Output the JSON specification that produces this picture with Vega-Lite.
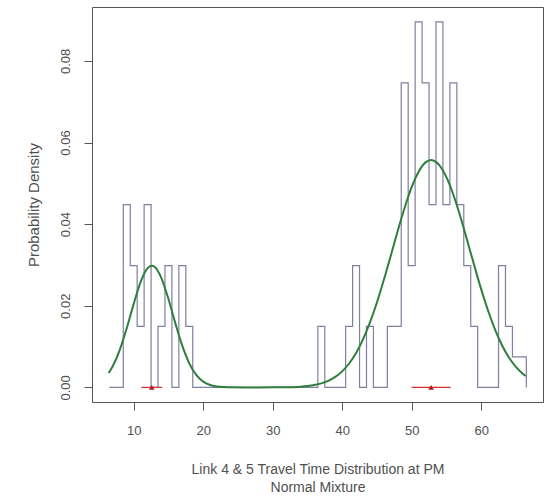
{
  "$schema": "https://vega.github.io/schema/vega-lite/v6.json",
  "width": 451,
  "height": 395,
  "autosize": {"type": "none"},
  "padding": {"left": 92, "top": 7, "right": 9, "bottom": 94},
  "background": "white",
  "config": {
    "view": {"stroke": "#555555", "strokeWidth": 1},
    "font": "Liberation Sans",
    "axis": {
      "domain": false,
      "grid": false,
      "ticks": true,
      "tickColor": "#555555",
      "tickSize": 8,
      "labelFont": "Liberation Sans",
      "labelFontSize": 13,
      "labelColor": "#505050",
      "titleFont": "Liberation Sans",
      "titleFontSize": 14,
      "titleFontWeight": "normal",
      "titleColor": "#505050"
    }
  },
  "datasets": {
    "bins": [
      {"x": 6.5, "y": 0},
      {"x": 8.5, "y": 0.044776},
      {"x": 9.5, "y": 0.029851},
      {"x": 10.5, "y": 0.014925},
      {"x": 11.5, "y": 0.044776},
      {"x": 12.5, "y": 0},
      {"x": 13.5, "y": 0.014925},
      {"x": 14.5, "y": 0.029851},
      {"x": 15.5, "y": 0},
      {"x": 16.5, "y": 0.029851},
      {"x": 17.5, "y": 0.014925},
      {"x": 18.5, "y": 0},
      {"x": 36.5, "y": 0.014925},
      {"x": 37.5, "y": 0},
      {"x": 40.5, "y": 0.014925},
      {"x": 41.5, "y": 0.029851},
      {"x": 42.5, "y": 0},
      {"x": 43.5, "y": 0.014925},
      {"x": 44.5, "y": 0},
      {"x": 46.5, "y": 0.014925},
      {"x": 47.5, "y": 0.014925},
      {"x": 48.5, "y": 0.074627},
      {"x": 49.5, "y": 0.029851},
      {"x": 50.5, "y": 0.089552},
      {"x": 51.5, "y": 0.074627},
      {"x": 52.5, "y": 0.044776},
      {"x": 53.5, "y": 0.089552},
      {"x": 54.5, "y": 0.044776},
      {"x": 55.5, "y": 0.074627},
      {"x": 56.5, "y": 0.044776},
      {"x": 57.5, "y": 0.029851},
      {"x": 58.5, "y": 0.014925},
      {"x": 59.5, "y": 0},
      {"x": 62.5, "y": 0.029851},
      {"x": 63.5, "y": 0.014925},
      {"x": 64.5, "y": 0.007463},
      {"x": 66.5, "y": 0}
    ],
    "curve": [
      {"x": 6.4, "y": 0.00352},
      {"x": 7, "y": 0.00522},
      {"x": 8, "y": 0.0092},
      {"x": 9, "y": 0.01451},
      {"x": 10, "y": 0.02047},
      {"x": 11, "y": 0.02585},
      {"x": 12, "y": 0.02921},
      {"x": 12.6, "y": 0.0298},
      {"x": 13, "y": 0.02954},
      {"x": 14, "y": 0.02672},
      {"x": 15, "y": 0.02164},
      {"x": 16, "y": 0.01568},
      {"x": 17, "y": 0.01016},
      {"x": 18, "y": 0.0059},
      {"x": 19, "y": 0.00306},
      {"x": 20, "y": 0.00142},
      {"x": 21, "y": 0.00059},
      {"x": 22, "y": 0.00022},
      {"x": 23, "y": 0.00007},
      {"x": 24, "y": 0.00002},
      {"x": 26, "y": 0},
      {"x": 28, "y": 0},
      {"x": 30, "y": 0.00001},
      {"x": 32, "y": 0.00005},
      {"x": 34, "y": 0.00018},
      {"x": 35, "y": 0.00033},
      {"x": 36, "y": 0.00058},
      {"x": 37, "y": 0.00098},
      {"x": 38, "y": 0.00161},
      {"x": 39, "y": 0.00256},
      {"x": 40, "y": 0.00393},
      {"x": 41, "y": 0.00585},
      {"x": 42, "y": 0.00844},
      {"x": 43, "y": 0.01178},
      {"x": 44, "y": 0.01591},
      {"x": 45, "y": 0.02081},
      {"x": 46, "y": 0.02636},
      {"x": 47, "y": 0.03232},
      {"x": 48, "y": 0.03837},
      {"x": 49, "y": 0.04409},
      {"x": 50, "y": 0.04906},
      {"x": 51, "y": 0.05285},
      {"x": 52, "y": 0.05513},
      {"x": 52.8, "y": 0.0557},
      {"x": 53, "y": 0.05566},
      {"x": 54, "y": 0.05442},
      {"x": 55, "y": 0.05151},
      {"x": 56, "y": 0.04719},
      {"x": 57, "y": 0.04187},
      {"x": 58, "y": 0.03596},
      {"x": 59, "y": 0.02991},
      {"x": 60, "y": 0.02407},
      {"x": 61, "y": 0.01877},
      {"x": 62, "y": 0.01416},
      {"x": 63, "y": 0.01034},
      {"x": 64, "y": 0.00731},
      {"x": 65, "y": 0.00501},
      {"x": 66, "y": 0.00332},
      {"x": 66.4, "y": 0.00279}
    ],
    "components": [
      {"x": 12.6, "lo": 11.1, "hi": 14.1},
      {"x": 52.8, "lo": 50.0, "hi": 55.6}
    ]
  },
  "layer": [
    {
      "data": {"name": "bins"},
      "mark": {"type": "line", "interpolate": "step-after", "color": "#7f7f9f", "strokeWidth": 1.2},
      "encoding": {
        "x": {
          "field": "x", "type": "quantitative",
          "scale": {"domain": [4.0, 68.9], "nice": false, "zero": false},
          "axis": {
            "values": [10, 20, 30, 40, 50, 60],
            "labelPadding": 14,
            "title": ["Link 4 & 5 Travel Time Distribution at PM", "Normal Mixture"],
            "titlePadding": 25,
            "titleLineHeight": 18
          }
        },
        "y": {
          "field": "y", "type": "quantitative",
          "scale": {"domain": [-0.00358, 0.0932], "nice": false, "zero": false},
          "axis": {
            "values": [0, 0.02, 0.04, 0.06, 0.08],
            "format": ".2f",
            "labelAngle": 270,
            "labelAlign": "center",
            "labelBaseline": "bottom",
            "labelPadding": 12,
            "title": "Probability Density",
            "titleFontSize": 15,
            "titlePadding": 18
          }
        }
      }
    },
    {
      "data": {"name": "curve"},
      "mark": {"type": "line", "interpolate": "monotone", "color": "#2f7f3c", "strokeWidth": 2},
      "encoding": {
        "x": {"field": "x", "type": "quantitative"},
        "y": {"field": "y", "type": "quantitative"}
      }
    },
    {
      "data": {"name": "components"},
      "mark": {"type": "rule", "color": "#d83030", "strokeWidth": 1.2},
      "encoding": {
        "x": {"field": "lo", "type": "quantitative"},
        "x2": {"field": "hi"},
        "y": {"datum": 0}
      }
    },
    {
      "data": {"name": "components"},
      "mark": {"type": "point", "shape": "triangle-up", "filled": true, "color": "#b01818", "size": 30, "opacity": 1},
      "encoding": {
        "x": {"field": "x", "type": "quantitative"},
        "y": {"datum": 0}
      }
    }
  ]
}
